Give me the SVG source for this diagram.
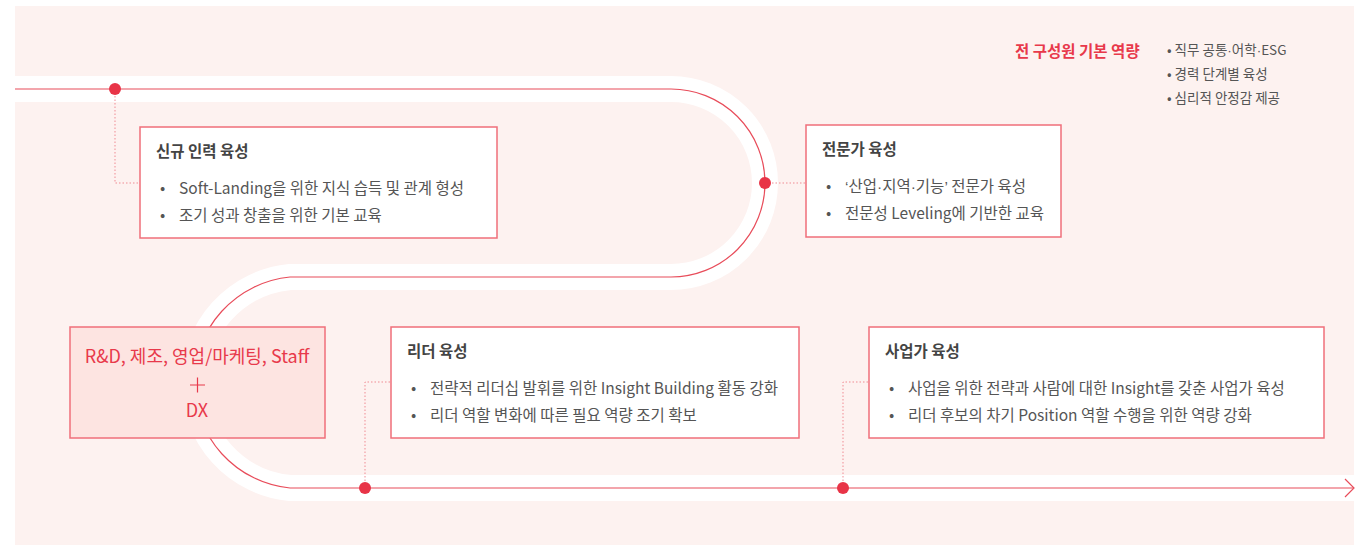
<svg xmlns="http://www.w3.org/2000/svg" width="1368" height="546" viewBox="0 0 1368 546">
  <style>
    .kr { font-family: "Noto Sans CJK KR", "Noto Sans", sans-serif; }
    .nd { font-family: "Liberation Sans", sans-serif; }
    .box { fill: #ffffff; stroke: #ef6f7a; stroke-width: 1.5; }
    .title { font-size: 15.5px; font-weight: 700; fill: #444444; }
    .body { font-size: 15.5px; fill: #555555; }
    .dot { fill: #e83447; }
    .dotted { fill: none; stroke: #f08b93; stroke-width: 1; stroke-dasharray: 1.5 2; }
    .side { font-size: 13.5px; fill: #555555; }
  </style>
  <rect x="15" y="6" width="1339" height="539" fill="#fdf2f0"/>
  <g id="connectors">
    <path d="M15,89 H671 A94,94 0 0 1 671,277 H290 A106,106 0 0 0 290,488 H1354" fill="none" stroke="#ffffff" stroke-width="26"/>
    <path d="M15,89 H671 A94,94 0 0 1 671,277 H290 A106,106 0 0 0 290,488 H1353" fill="none" stroke="#e84c5a" stroke-width="1.2"/>
    <path d="M1345,479 L1354,488 L1345,497" fill="none" stroke="#e84c5a" stroke-width="1.2"/>
    <path class="dotted" d="M115,89 V183 H140"/>
    <path class="dotted" d="M765,183 H806"/>
    <path class="dotted" d="M365,488 V382 H391"/>
    <path class="dotted" d="M843,488 V382 H869"/>
    <circle class="dot" cx="115" cy="89" r="6"/>
    <circle class="dot" cx="765" cy="183" r="6"/>
    <circle class="dot" cx="365" cy="488" r="6"/>
    <circle class="dot" cx="843" cy="488" r="6"/>
  </g>
  <g id="node-new">
    <rect class="box" x="140" y="127" width="357" height="111"/>
    <text class="kr title" x="156" y="157">신규 인력 육성</text>
    <text class="kr body" x="160" y="194">•</text>
    <text class="kr body" x="179" y="194">Soft-Landing을 위한 지식 습득 및 관계 형성</text>
    <text class="kr body" x="160" y="221">•</text>
    <text class="kr body" x="179" y="221">조기 성과 창출을 위한 기본 교육</text>
  </g>
  <g id="node-expert">
    <rect class="box" x="806" y="125" width="255" height="112"/>
    <text class="kr title" x="822" y="155">전문가 육성</text>
    <text class="kr body" x="826" y="192">•</text>
    <text class="kr body" x="845" y="192"><tspan class="nd">‘</tspan>산업<tspan class="nd">·</tspan>지역<tspan class="nd">·</tspan>기능<tspan class="nd">’</tspan> 전문가 육성</text>
    <text class="kr body" x="826" y="219">•</text>
    <text class="kr body" x="845" y="219">전문성 Leveling에 기반한 교육</text>
  </g>
  <g id="node-domain">
    <rect x="70" y="327" width="255" height="111" fill="#fde4e1" stroke="#ef6f7a" stroke-width="1.5"/>
    <text class="kr" x="197" y="363" font-size="18" fill="#e8394b" text-anchor="middle">R&amp;D, 제조, 영업/마케팅, Staff</text>
    <path d="M190,385 H205 M197.5,377.5 V392.5" stroke="#e8394b" stroke-width="1.2" fill="none"/>
    <text class="kr" x="197" y="417" font-size="18" fill="#e8394b" text-anchor="middle">DX</text>
  </g>
  <g id="node-leader">
    <rect class="box" x="391" y="327" width="408" height="111"/>
    <text class="kr title" x="407" y="357">리더 육성</text>
    <text class="kr body" x="411" y="394">•</text>
    <text class="kr body" x="430" y="394">전략적 리더십 발휘를 위한 Insight Building 활동 강화</text>
    <text class="kr body" x="411" y="421">•</text>
    <text class="kr body" x="430" y="421">리더 역할 변화에 따른 필요 역량 조기 확보</text>
  </g>
  <g id="node-business">
    <rect class="box" x="869" y="327" width="455" height="111"/>
    <text class="kr title" x="885" y="357">사업가 육성</text>
    <text class="kr body" x="889" y="394">•</text>
    <text class="kr body" x="908" y="394">사업을 위한 전략과 사람에 대한 Insight를 갖춘 사업가 육성</text>
    <text class="kr body" x="889" y="421">•</text>
    <text class="kr body" x="908" y="421">리더 후보의 차기 Position 역할 수행을 위한 역량 강화</text>
  </g>
  <g id="node-common">
    <text class="kr" x="1015" y="57" font-size="15.5" font-weight="700" fill="#e8394b">전 구성원 기본 역량</text>
    <text class="kr side" x="1167" y="55">• 직무 공통<tspan class="nd">·</tspan>어학<tspan class="nd">·</tspan>ESG</text>
    <text class="kr side" x="1167" y="79">• 경력 단계별 육성</text>
    <text class="kr side" x="1167" y="103">• 심리적 안정감 제공</text>
  </g>
</svg>
